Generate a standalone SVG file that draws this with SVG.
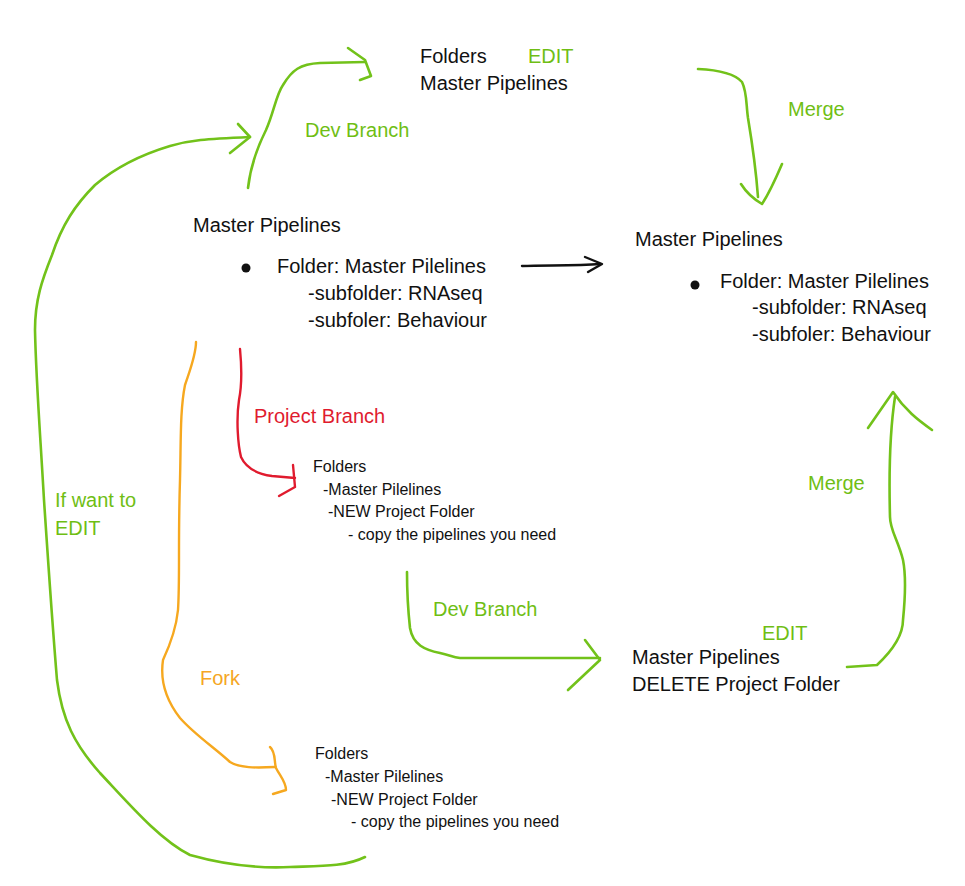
<svg xmlns="http://www.w3.org/2000/svg" width="965" height="886" viewBox="0 0 965 886">
<style>
text{font-family:"Liberation Sans","DejaVu Sans",sans-serif;}
.t{font-size:20px;fill:#111;}
.s{font-size:16px;fill:#111;}
.g{font-size:20px;fill:#6fbe14;}
.r{font-size:20px;fill:#e01b2e;}
.o{font-size:20px;fill:#f5a623;}
.lg{fill:none;stroke:#72c21a;stroke-width:2.6;stroke-linecap:round;stroke-linejoin:round;}
.lr{fill:none;stroke:#e01b2e;stroke-width:2.4;stroke-linecap:round;stroke-linejoin:round;}
.lo{fill:none;stroke:#f6a81f;stroke-width:2.4;stroke-linecap:round;stroke-linejoin:round;}
.lk{fill:none;stroke:#111;stroke-width:2.4;stroke-linecap:round;stroke-linejoin:round;}
</style>
<rect width="965" height="886" fill="#fff"/>
<g id="connectors">
  <!-- Dev branch top -->
  <path class="lg" d="M248,188 C250,170 256,150 266,130 C274,112 276,95 283,85 C292,70 300,64 320,63 L365,62"/>
  <path class="lg" d="M348,48 L365,60 L371,76 L360,80"/>
  <!-- Big loop -->
  <path class="lg" d="M365,857 C345,867 320,866 290,867 C250,869 215,862 190,855 C160,840 130,805 100,773 C75,745 62,720 57,680 C52,620 48,560 44,500 C40,430 36,380 35,330 C35,300 42,280 52,255 C62,225 75,205 95,185 C115,168 140,155 170,146 C190,140 205,139 250,137"/>
  <path class="lg" d="M238,124 L250,137 L230,153"/>
  <!-- Black arrow -->
  <path class="lk" d="M522,266 C545,265 575,266 600,264"/>
  <path class="lk" d="M585,257 L602,264 L588,272"/>
  <!-- Merge top -->
  <path class="lg" d="M698,69 C720,70 735,74 742,82 C747,92 746,104 748,118 C752,142 756,170 758,197"/>
  <path class="lg" d="M741,184 C746,192 752,198 762,204 C770,192 776,178 782,164"/>
  <!-- Project branch -->
  <path class="lr" d="M240,349 C242,370 242,385 239,400 C236,420 238,445 241,457 C246,468 258,474 272,476 L295,478"/>
  <path class="lr" d="M293,465 L295,487 L279,496"/>
  <!-- Fork -->
  <path class="lo" d="M196,342 C196,355 190,370 185,385 C180,410 181,440 180,480 C178,540 180,580 178,610 C176,630 170,645 163,660 C160,680 166,700 180,718 C195,735 215,748 230,762 C240,768 255,768 275,767"/>
  <path class="lo" d="M270,747 C276,752 274,762 276,768 C280,776 286,782 286,790 L273,794"/>
  <!-- Dev branch bottom -->
  <path class="lg" d="M407,572 C407,590 408,610 410,628 C413,645 425,650 440,653 C450,655 452,657 460,658 L600,658"/>
  <path class="lg" d="M585,640 L600,660 L568,690"/>
  <!-- Merge right -->
  <path class="lg" d="M847,667 L877,665 C893,650 903,635 903,620 C905,600 906,575 903,560 C898,540 890,530 890,517 C889,480 890,430 895,397"/>
  <path class="lg" d="M868,428 L893,392 C905,410 918,420 932,430"/>
</g>
<g id="node-top">
  <text class="t" x="420" y="63">Folders</text>
  <text class="g" x="528" y="63">EDIT</text>
  <text class="t" x="420" y="90">Master Pipelines</text>
</g>
<g id="label-devbranch-top"><text class="g" x="305" y="137">Dev Branch</text></g>
<g id="label-merge-top"><text class="g" x="788" y="116">Merge</text></g>
<g id="node-master-left">
  <text class="t" x="193" y="232">Master Pipelines</text>
  <circle cx="246" cy="268" r="4.5" fill="#111"/>
  <text class="t" x="277" y="273">Folder: Master Pilelines</text>
  <text class="t" x="308" y="300">-subfolder: RNAseq</text>
  <text class="t" x="308" y="327">-subfoler: Behaviour</text>
</g>
<g id="node-master-right">
  <text class="t" x="635" y="246">Master Pipelines</text>
  <circle cx="695" cy="285" r="4.5" fill="#111"/>
  <text class="t" x="720" y="288">Folder: Master Pilelines</text>
  <text class="t" x="752" y="314">-subfolder: RNAseq</text>
  <text class="t" x="752" y="341">-subfoler: Behaviour</text>
</g>
<g id="label-project-branch"><text class="r" x="254" y="423">Project Branch</text></g>
<g id="node-folders-1">
  <text class="s" x="313" y="472">Folders</text>
  <text class="s" x="323" y="495">-Master Pilelines</text>
  <text class="s" x="328" y="517">-NEW Project Folder</text>
  <text class="s" x="348" y="540">- copy the pipelines you need</text>
</g>
<g id="label-if-edit">
  <text class="g" x="55" y="507">If want to</text>
  <text class="g" x="55" y="535">EDIT</text>
</g>
<g id="label-devbranch-bottom"><text class="g" x="433" y="616">Dev Branch</text></g>
<g id="node-delete">
  <text class="g" x="762" y="640">EDIT</text>
  <text class="t" x="632" y="664">Master Pipelines</text>
  <text class="t" x="632" y="691">DELETE Project Folder</text>
</g>
<g id="label-merge-right"><text class="g" x="808" y="490">Merge</text></g>
<g id="label-fork"><text class="o" x="200" y="685">Fork</text></g>
<g id="node-folders-2">
  <text class="s" x="315" y="759">Folders</text>
  <text class="s" x="325" y="782">-Master Pilelines</text>
  <text class="s" x="331" y="805">-NEW Project Folder</text>
  <text class="s" x="351" y="827">- copy the pipelines you need</text>
</g>
</svg>
